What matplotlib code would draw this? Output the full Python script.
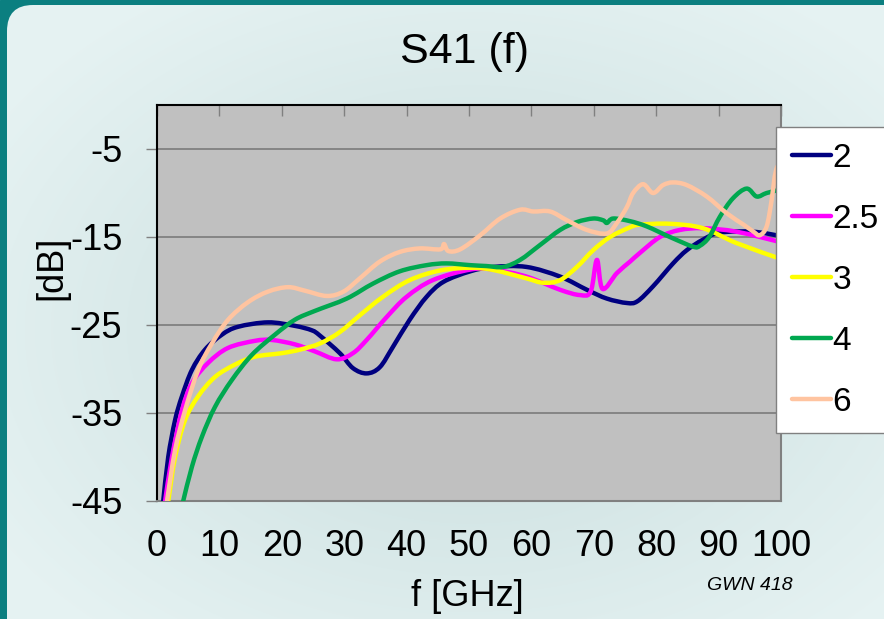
import numpy as np
import matplotlib
matplotlib.use('Agg')
import matplotlib.pyplot as plt
from matplotlib.patches import FancyBboxPatch, Rectangle, PathPatch
from matplotlib.path import Path
from matplotlib.lines import Line2D

plt.rcParams['font.family'] = ['Liberation Sans', 'DejaVu Sans']
plt.rcParams['axes.unicode_minus'] = False

# ---------------- data ----------------
series_names = ['2', '2.5', '3', '4', '6']
series_colors = ['#000080', '#FF00FF', '#FFFF00', '#00A850', '#FFC4A0']

f_2 = [1.0, 1.8, 2.9, 4.0, 5.6, 7.7, 10.4, 13.0, 17.8, 22.1, 24.8, 26.1, 29.3, 31.4,
       33.6, 35.7, 37.8, 40.5, 43.2, 45.9, 50.2, 53.9, 59.2, 64.6, 68.9, 72.1, 75.3,
       77.0, 79.5, 82.7, 84.9, 87.5, 90.2, 95.5, 100.0]
db_2 = [-45, -40, -35.8, -33.1, -30.1, -27.8, -26.1, -25.2, -24.7, -25.1, -25.6, -26.2,
        -28.2, -29.9, -30.5, -29.8, -27.5, -24.4, -21.8, -20.1, -18.9, -18.4, -18.4,
        -19.5, -21.0, -22.0, -22.5, -22.3, -20.6, -18.0, -16.5, -15.3, -14.5, -14.4, -14.9]

f_25 = [1.3, 2.4, 4.0, 5.6, 8.2, 11.4, 15.7, 18.4, 22.1, 25.3, 28.8, 31.4, 33.6, 36.8,
        40.0, 44.2, 50.2, 53.9, 59.2, 64.6, 67.8, 69.5, 70.5, 71.4, 73.7, 75.8, 77.4,
        80.6, 83.8, 87.5, 92.9, 100.0]
db_25 = [-45, -40, -34.7, -31.6, -29.3, -27.6, -26.8, -26.7, -27.2, -28.0, -28.9, -28.2,
         -26.7, -24.1, -21.8, -19.9, -18.7, -18.7, -19.5, -21.0, -21.6, -21.2, -17.6,
         -20.9, -19.1, -17.8, -16.8, -15.0, -14.2, -14.0, -14.4, -15.6]

f_3 = [1.8, 2.9, 4.5, 6.6, 9.3, 12.5, 15.7, 20.0, 22.9, 26.1, 29.3, 32.5, 36.2, 40.5,
       45.4, 50.2, 53.9, 59.2, 61.9, 64.6, 67.3, 69.9, 72.6, 75.8, 77.4, 82.2, 87.5,
       92.9, 100.0]
db_3 = [-45, -40, -35.8, -33.1, -30.9, -29.5, -28.6, -28.2, -27.8, -27.1, -25.8, -23.9,
        -21.8, -19.9, -18.8, -18.5, -18.75, -19.7, -20.2, -19.9, -18.4, -16.5, -15.0,
        -13.9, -13.6, -13.5, -14.0, -15.7, -17.5]

f_4 = [4.2, 5.6, 7.2, 9.3, 12.0, 15.2, 18.9, 22.1, 25.3, 30.4, 34.6, 38.9, 43.2, 46.4,
       50.2, 52.8, 55.5, 58.2, 61.4, 64.6, 67.3, 69.9, 71.5, 72.1, 73.1, 75.8, 78.5,
       82.2, 85.9, 87.0, 88.5, 90.2, 92.3, 94.5, 96.1, 97.7, 100.0]
db_4 = [-45, -41.1, -37.7, -34.3, -31.25, -28.4, -26.1, -24.4, -23.4, -22.0, -20.3, -18.9,
        -18.2, -18.0, -18.2, -18.3, -18.4, -17.6, -15.9, -14.2, -13.3, -12.9, -13.1,
        -13.4, -12.9, -13.2, -13.8, -15.0, -16.1, -16.0, -15.0, -12.7, -10.6, -9.5,
        -10.4, -10.0, -9.6]

f_6 = [1.6, 2.9, 4.5, 6.6, 8.8, 11.4, 14.6, 17.8, 21.0, 23.7, 27.2, 29.9, 32.5, 35.7,
       38.9, 42.1, 45.4, 46.0, 46.7, 48.6, 51.8, 55.0, 58.2, 60.3, 63.0, 65.7, 68.9,
       72.1, 73.7, 75.3, 76.3, 77.9, 79.5, 81.1, 82.7, 84.9, 88.1, 91.3, 94.0, 95.6,
       96.6, 97.7, 98.5, 99.0, 99.4]
db_6 = [-45, -39.2, -34.7, -30.1, -27.1, -24.4, -22.4, -21.2, -20.7, -21.1, -21.7, -21.2,
        -19.7, -17.8, -16.7, -16.3, -16.4, -15.8, -16.6, -16.4, -14.8, -12.9, -11.9,
        -12.1, -12.1, -13.1, -14.2, -14.6, -13.4, -11.6, -10.0, -9.0, -10.0, -9.1, -8.8,
        -9.1, -10.4, -12.3, -13.6, -14.4, -14.8, -13.8, -10.8, -8.1, -7.0]

series_f = [f_2, f_25, f_3, f_4, f_6]
series_db = [db_2, db_25, db_3, db_4, db_6]

x_ticks = list(range(0, 101, 10))
y_ticks = [-45, -35, -25, -15, -5]

title_text = 'S41 (f)'
x_label = 'f [GHz]'
y_label = '[dB]'
note_text = 'GWN 418'


def smooth_path(xs, ys):
    """Excel-style smoothed line: Catmull-Rom segments drawn as cubic Beziers."""
    p = np.column_stack([xs, ys]).astype(float)
    n = len(p)
    verts = [p[0]]
    codes = [Path.MOVETO]
    for i in range(n - 1):
        p0 = p[i - 1] if i > 0 else p[i]
        p1 = p[i]
        p2 = p[i + 1]
        p3 = p[i + 2] if i + 2 < n else p[i + 1]
        c1 = p1 + (p2 - p0) / 6.0
        c2 = p2 - (p3 - p1) / 6.0
        verts += [c1, c2, p2]
        codes += [Path.CURVE4] * 3
    return Path(verts, codes)


# ---------------- figure ----------------
W, H = 884, 619
fig = plt.figure(figsize=(W / 100, H / 100), dpi=100)

bg = fig.add_axes([0, 0, 1, 1])
bg.set_xlim(0, W)
bg.set_ylim(H, 0)
bg.axis('off')
bg.add_patch(Rectangle((0, 0), W, H, color='#0B7F80', zorder=0))
panel = FancyBboxPatch((7, 5), W + 40, H + 40,
                       boxstyle='round,pad=0,rounding_size=26',
                       fc='none', ec='none', zorder=1)
bg.add_patch(panel)
yy, xx = np.mgrid[0:H, 0:W]
r = np.sqrt(((xx - 470) / 560.0) ** 2 + ((yy - 330) / 400.0) ** 2)
r = np.clip(r, 0, 1) ** 0.8
c0 = np.array([0.76, 0.85, 0.85])
c1 = np.array([0.90, 0.95, 0.95])
img = c0[None, None, :] * (1 - r[..., None]) + c1[None, None, :] * r[..., None]
im = bg.imshow(img, extent=(0, W, H, 0), aspect='auto', zorder=1)
im.set_clip_path(panel)
bg.set_xlim(0, W)
bg.set_ylim(H, 0)

ax = fig.add_axes([157 / W, 1 - 501 / H, (781 - 157) / W, (501 - 105) / H])
ax.set_facecolor('#C0C0C0')
handles = []
for k, (fx, dy, name, col) in enumerate(zip(series_f, series_db, series_names, series_colors)):
    patch = PathPatch(smooth_path(fx, dy), fill=False, edgecolor=col, lw=3.2,
                      joinstyle='round', capstyle='round', zorder=3 + k)
    ax.add_patch(patch)
    handles.append(Line2D([], [], color=col, lw=3.2, label=name,
                          solid_capstyle='round'))

ax.set_xlim(0, 100)
ax.set_ylim(-45, 0)
ax.set_xticks(x_ticks)
ax.set_yticks(y_ticks)
ax.grid(axis='y', color='#808080', lw=1.3)
ax.grid(axis='x', visible=False)
ax.set_axisbelow(True)

ax.tick_params(axis='x', top=True, bottom=False, labeltop=False, labelbottom=True,
               direction='in', length=8, width=1, color='#808080',
               labelsize=26, pad=20)
ax.tick_params(axis='y', left=True, direction='out', length=8, width=1,
               color='#808080', labelsize=26, pad=17)

for s in ['left', 'top']:
    ax.spines[s].set_color('black')
    ax.spines[s].set_linewidth(1.5)
for s in ['right', 'bottom']:
    ax.spines[s].set_color('#808080')
    ax.spines[s].set_linewidth(1.5)

leg = ax.legend(handles=handles, loc='upper left',
                bbox_to_anchor=(776 / W, 1 - 127 / H), bbox_transform=fig.transFigure,
                fontsize=24, frameon=True, fancybox=False, framealpha=1,
                edgecolor='#808080', facecolor='white',
                handlelength=1.17, handletextpad=0.05, labelspacing=0.9,
                borderpad=0.47, borderaxespad=0)
leg.get_frame().set_linewidth(1.0)
leg.set_zorder(20)

fig.text(465 / W, 1 - 52 / H, title_text, fontsize=31, ha='center', va='center')
fig.text(467 / W, 1 - 597 / H, x_label, fontsize=26, ha='center', va='center')
fig.text(52 / W, 1 - 268 / H, y_label, fontsize=26, ha='center', va='center', rotation=90)
fig.text(750 / W, 1 - 586 / H, note_text, fontsize=14, ha='center', va='center',
         style='italic')

fig.savefig('out.png', dpi=100)
